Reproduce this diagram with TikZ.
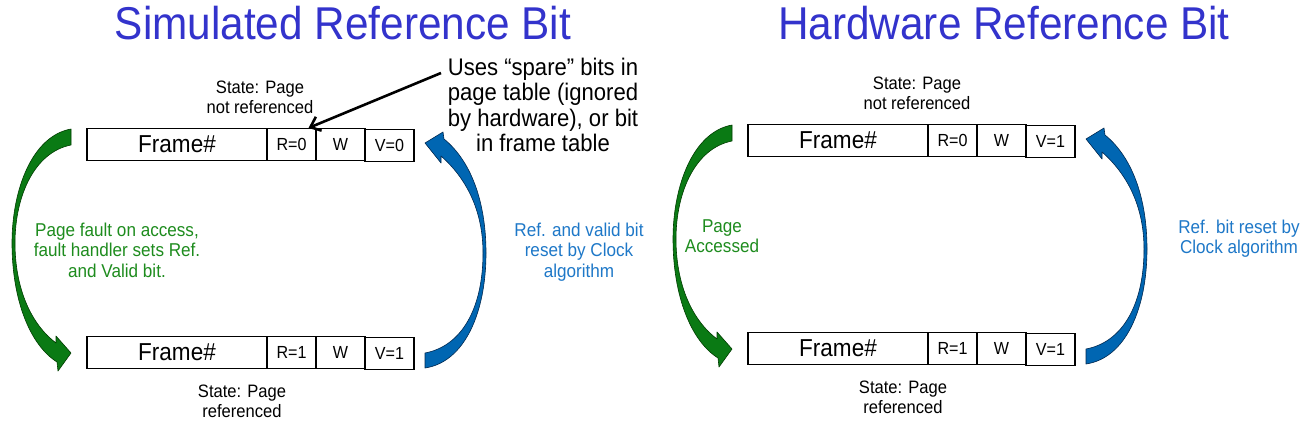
\documentclass[tikz,border=0pt]{standalone}
\usepackage{fontspec}
\setmainfont{Liberation Sans}[FakeStretch=0.92]
\usetikzlibrary{arrows.meta}
\definecolor{titleblue}{RGB}{51,51,204}
\definecolor{gfill}{RGB}{10,122,20}
\definecolor{gline}{RGB}{0,60,0}
\definecolor{gtext}{RGB}{30,140,30}
\definecolor{bfill}{RGB}{0,102,178}
\definecolor{bline}{RGB}{0,40,80}
\definecolor{btext}{RGB}{30,120,200}
\newcommand\mlines[1]{\begin{tabular}[t]{@{}c@{}}#1\end{tabular}}
\begin{document}
\begin{tikzpicture}[x=1pt,y=-1pt,
  cell/.style={draw=black,line width=1.1pt,minimum height=32pt,inner sep=0pt,font=\fontsize{17.5}{20}\selectfont},
  framecell/.style={cell,minimum width=180pt,font=\fontsize{24.5}{28}\selectfont},
  bitcell/.style={cell,minimum width=49pt},
  ttl/.style={text=titleblue,font=\fontsize{46}{50}\selectfont,anchor=base,inner sep=0pt},
  lbl/.style={anchor=base,inner sep=0pt,font=\fontsize{18}{20.5}\selectfont},
  glbl/.style={lbl,text=gtext,font=\fontsize{18.6}{20.5}\selectfont},
  blbl/.style={lbl,text=btext,font=\fontsize{18.6}{20.5}\selectfont},
  garrow/.pic={
    \filldraw[fill=gfill,draw=gline,line width=0.6pt,line join=round]
      (71,129) .. controls (32,136) and (12,190) .. (12,243)
      .. controls (12,300) and (30,345) .. (57,362)
      -- (58,371) -- (71,353) -- (56,336) -- (56,343)
      .. controls (32,325) and (15,290) .. (15,243)
      .. controls (15,195) and (35,152) .. (71,145) -- cycle;
  },
  barrow/.pic={
    \filldraw[fill=bfill,draw=bline,line width=0.6pt,line join=round]
      (425,368) .. controls (465,362) and (486,312) .. (486,253)
      .. controls (486,200) and (470,160) .. (444,139)
      -- (443,132) -- (425,143) -- (441,163) -- (441,156)
      .. controls (466,178) and (483,210) .. (483,253)
      .. controls (483,308) and (462,346) .. (425,353) -- cycle;
  }
]
\fill[white] (0,0) rectangle (1309,426);
\useasboundingbox (0,0) rectangle (1309,426);

% titles
\node[ttl] (t1) at (343,39) {Simulated Reference Bit};
\node[ttl] (t2) at (1004,39) {Hardware Reference Bit};

% curved arrows
\pic at (0,0) {garrow};
\pic at (0,0) {barrow};
\pic at (661,-4) {garrow};
\pic at (661,-4) {barrow};

% left boxes
\node[framecell] (f1) at (177,144.5) {Frame\#};
\node[bitcell] (r1) at (291.5,144.5) {R=0};
\node[bitcell] (w1) at (340.5,144.5) {W};
\node[bitcell] (v1) at (389.5,145.5) {V=0};
\node[framecell] (f2) at (177,352.5) {Frame\#};
\node[bitcell] (r2) at (291.5,352.5) {R=1};
\node[bitcell] (w2) at (340.5,352.5) {W};
\node[bitcell] (v2) at (389.5,353.5) {V=1};

% right boxes
\node[framecell] (f3) at (838,140.5) {Frame\#};
\node[bitcell] (r3) at (952.5,140.5) {R=0};
\node[bitcell] (w3) at (1001.5,140.5) {W};
\node[bitcell] (v3) at (1050.5,141.5) {V=1};
\node[framecell] (f4) at (838,348.5) {Frame\#};
\node[bitcell] (r4) at (952.5,348.5) {R=1};
\node[bitcell] (w4) at (1001.5,348.5) {W};
\node[bitcell] (v4) at (1050.5,349.5) {V=1};

% state labels
\node[lbl] (s1) at (260,93) {\mlines{State: Page\\not referenced}};
\node[lbl] (s2) at (242,397) {\mlines{State: Page\\referenced}};
\node[lbl] (s3) at (917,89) {\mlines{State: Page\\not referenced}};
\node[lbl] (s4) at (903,393) {\mlines{State: Page\\referenced}};

% note
\node[anchor=base,inner sep=0pt,font=\fontsize{24}{25.5}\selectfont] (uses) at (543,75)
  {\mlines{Uses “spare” bits in\\page table (ignored\\by hardware), or bit\\in frame table}};
\coordinate (ustart) at (441,73);
\draw[line width=2.6pt,-{Straight Barb[length=9pt,width=15pt]}] (ustart) -- ([xshift=-8pt]r1.north east);

% transition labels
\node[glbl] (g1) at (117,236) {\mlines{Page fault on access,\\fault handler sets Ref.\\and Valid bit.}};
\node[blbl] (b1) at (579,236) {\mlines{Ref. and valid bit\\reset by Clock\\algorithm}};
\node[glbl] (g2) at (722,232) {\mlines{Page\\Accessed}};
\node[blbl] (b2) at (1239,233) {\mlines{Ref. bit reset by\\Clock algorithm}};
\end{tikzpicture}
\end{document}
